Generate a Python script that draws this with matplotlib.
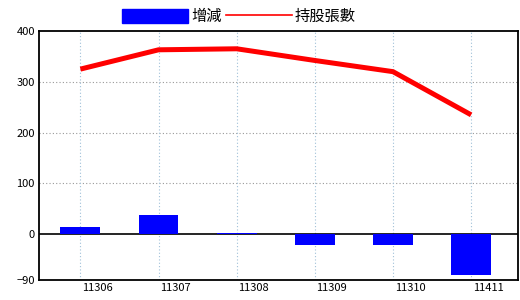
import matplotlib
matplotlib.use("Agg")
import matplotlib.pyplot as plt
import matplotlib.transforms as mtransforms
from matplotlib.patches import Patch
from matplotlib.lines import Line2D
import numpy as np

plt.rcParams['font.family'] = ['Noto Sans CJK TC', 'DejaVu Sans']

months = ['11306', '11307', '11308', '11309', '11310', '11411']
change = [14, 38, 3, -22, -22, -80]
holders = [325, 363, 365, 342, 320, 235]
yticks = [400, 300, 200, 100, 0, -90]

fig = plt.figure(figsize=(5.2, 3.0), dpi=100)
ax = fig.add_axes([39 / 520, 20 / 300, 479 / 520, 249 / 300])

x = np.arange(len(months))
ax.bar(x, change, width=0.51, color='#0000ff', zorder=3)
ax.plot(x, holders, color='#ff0000', lw=3.6, zorder=4, solid_capstyle='butt')
ax.axhline(0, color='black', lw=1.2, zorder=2)

ax.set_xlim(-0.53, 5.6)
ax.set_ylim(-90, 400)
ax.set_yticks(yticks)
ax.set_xticks(x)
ax.set_xticklabels(months, fontsize=8)
ax.tick_params(axis='y', labelsize=8, length=0, pad=3)
ax.tick_params(axis='x', length=0, pad=2)
offset = mtransforms.ScaledTranslation(17 / 100, 0, fig.dpi_scale_trans)
for lbl in ax.get_xticklabels():
    lbl.set_transform(lbl.get_transform() + offset)

for v in [100, 200, 300]:
    ax.axhline(v, color='#999999', lw=0.8, ls=(0, (1, 2)), zorder=1)
for xi in x:
    ax.axvline(xi, color='#a0c0d8', lw=0.8, ls=(0, (1, 2)), zorder=1)

for s in ax.spines.values():
    s.set_linewidth(1.3)
    s.set_color('black')

handles = [Patch(color='#0000ff'), Line2D([], [], color='#ff0000', lw=1.2)]
fig.legend(handles, ['增減', '持股張數'], loc='center', bbox_to_anchor=(0.46, 0.945),
           ncol=2, frameon=False, fontsize=11, handlelength=4.3, handleheight=1.0,
           handletextpad=0.2, columnspacing=0.3)

fig.savefig('out.png', dpi=100)
